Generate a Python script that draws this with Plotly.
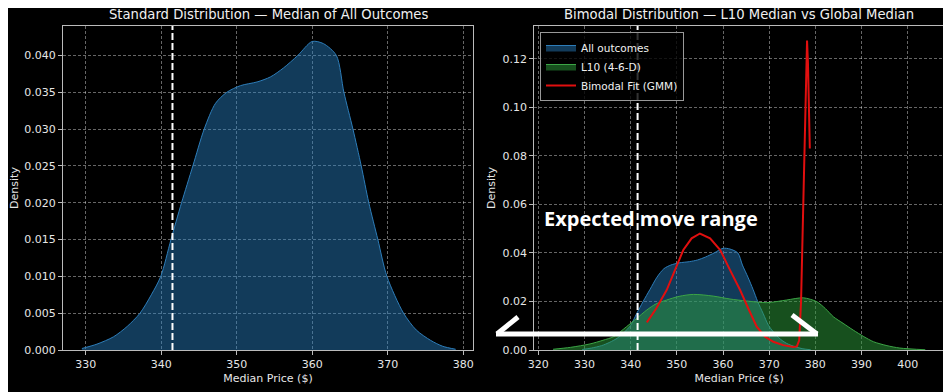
import plotly.graph_objects as go
from plotly.subplots import make_subplots

# ---- data ----
all_x = [329.5, 331.5, 333.7, 335.5, 337.2, 338.7, 339.95, 341.3, 342.7, 344.2, 345.7, 347.2,
         348.7, 350.5, 352.7, 354.5, 356.2, 358.1, 360.0, 361.5, 363.2, 364.2, 365.4, 366.5,
         367.5, 368.7, 369.9, 372.1, 373.8, 375.7, 377.3, 379.0]
all_y = [0.0002, 0.0008, 0.0018, 0.0032, 0.005, 0.0075, 0.010, 0.015, 0.020, 0.025, 0.030, 0.0335,
         0.035, 0.0359, 0.0364, 0.0371, 0.0383, 0.040, 0.0419, 0.0416, 0.040, 0.035, 0.030, 0.025,
         0.020, 0.015, 0.010, 0.005, 0.0027, 0.0013, 0.0005, 0.0001]

l10_x = [323.2, 327.0, 331.2, 334.0, 336.3, 339.1, 341.3, 343.5, 345.5, 347.8, 350.5, 353.6,
         357.9, 361.5, 365.1, 369.5, 373.8, 377.4, 380.3, 382.2, 383.9, 386.0, 388.2, 390.5,
         392.6, 395.5, 398.3, 403.8]
l10_y = [0.0003, 0.0011, 0.0025, 0.004, 0.0055, 0.0096, 0.013, 0.0165, 0.019, 0.0206, 0.0221, 0.0229,
         0.0222, 0.021, 0.0202, 0.0195, 0.0206, 0.0215, 0.0199, 0.017, 0.0137, 0.011, 0.0082, 0.0055,
         0.0034, 0.0018, 0.0008, 0.0001]

gmm_x = [343.5, 345.5, 347.8, 349.7, 351.4, 353.2, 355.0, 357.2, 359.4, 361.5, 363.7, 365.5,
         367.3, 369.1, 370.9, 373.0, 375.2, 376.0, 376.5, 376.9, 377.2, 377.6, 377.9, 378.2,
         378.4, 378.6, 378.8]
gmm_y = [0.0114, 0.017, 0.0247, 0.033, 0.0412, 0.046, 0.048, 0.046, 0.0412, 0.033, 0.0247, 0.017,
         0.0096, 0.0055, 0.0034, 0.0020, 0.0012, 0.0015, 0.004, 0.02, 0.045, 0.074, 0.105, 0.1275,
         0.118, 0.100, 0.083]

global_median = 341.5

left_xticks = [330, 340, 350, 360, 370, 380]
left_yticks = [0.000, 0.005, 0.010, 0.015, 0.020, 0.025, 0.030, 0.035, 0.040]
right_xticks = [320, 330, 340, 350, 360, 370, 380, 390, 400]
right_yticks = [0.00, 0.02, 0.04, 0.06, 0.08, 0.10, 0.12]

titles = ["Standard Distribution — Median of All Outcomes",
          "Bimodal Distribution — L10 Median vs Global Median"]

FONT = "DejaVu Sans"
OFF = 8                      # page body margin in the browser
W, H = 951 - OFF, 392 - OFF  # figure size
ML, MT = 63 - OFF, 26 - OFF
MR = W - (944 - OFF)
MB = H - (350 - OFF)
PW, PH = W - ML - MR, H - MT - MB


def px(x):
    """screen x (reference pixels) -> paper coordinate"""
    return (x - OFF - ML) / PW


def py(y):
    """screen y (reference pixels) -> paper coordinate"""
    return (H - MB - (y - OFF)) / PH


fig = make_subplots(rows=1, cols=2)

blue_fill = "rgba(40,130,200,0.45)"
blue_line = "rgb(45,125,185)"
green_fill = "rgba(45,160,60,0.5)"
green_line = "rgb(60,165,70)"

fig.add_trace(go.Scatter(x=all_x, y=all_y, mode="lines", fill="tozeroy", fillcolor=blue_fill,
                         line=dict(color=blue_line, width=1, shape="spline", smoothing=0.8),
                         showlegend=False), row=1, col=1)

fig.add_trace(go.Scatter(x=all_x, y=all_y, mode="lines", fill="tozeroy", fillcolor=blue_fill,
                         line=dict(color=blue_line, width=1, shape="spline", smoothing=0.8),
                         name="All outcomes"), row=1, col=2)
fig.add_trace(go.Scatter(x=l10_x, y=l10_y, mode="lines", fill="tozeroy", fillcolor=green_fill,
                         line=dict(color=green_line, width=1, shape="spline", smoothing=0.8),
                         name="L10 (4-6-D)"), row=1, col=2)
fig.add_trace(go.Scatter(x=gmm_x, y=gmm_y, mode="lines",
                         line=dict(color="rgb(225,15,15)", width=2),
                         name="Bimodal Fit (GMM)"), row=1, col=2)

for c in (1, 2):
    fig.add_vline(x=global_median, line=dict(color="white", width=2, dash="7px,3px"), row=1, col=c)

TXT = "#e6e6e6"
axis_common = dict(showgrid=True, gridcolor="rgba(255,255,255,0.4)", griddash="3px,2px", gridwidth=1,
                   zeroline=False, showline=True, mirror=True, linecolor="#bbbbbb", linewidth=1.2,
                   ticks="outside", ticklen=4, tickcolor="#bbbbbb", automargin=False,
                   tickfont=dict(family=FONT, size=11, color=TXT))

fig.update_xaxes(**axis_common)
fig.update_yaxes(**axis_common)

tfont = dict(family=FONT, size=11, color=TXT)
fig.update_layout(
    xaxis=dict(domain=[0, px(473)], range=[327, 381.3], tickvals=left_xticks,
               title=dict(text="Median Price ($)", font=tfont, standoff=4)),
    yaxis=dict(range=[0, 0.044], tickvals=left_yticks, tickformat=".3f",
               title=dict(text="Density", font=tfont, standoff=4)),
    xaxis2=dict(domain=[px(534.3), 1], range=[319.13, 407.86], tickvals=right_xticks,
                title=dict(text="Median Price ($)", font=tfont, standoff=4)),
    yaxis2=dict(range=[0, 0.1335], tickvals=right_yticks, tickformat=".2f",
                title=dict(text="Density", font=tfont, standoff=4)),
)

annotations = [
    dict(text=titles[0], x=px(268), y=py(14), xref="paper", yref="paper", showarrow=False,
         font=dict(family=FONT, size=13.2, color="#f0f0f0"), xanchor="center", yanchor="middle"),
    dict(text=titles[1], x=px(739), y=py(14), xref="paper", yref="paper", showarrow=False,
         font=dict(family=FONT, size=13.2, color="#f0f0f0"), xanchor="center", yanchor="middle"),
    dict(text="<b>Expected move range</b>", x=px(651), y=py(218), xref="paper", yref="paper",
         showarrow=False, font=dict(family="Open Sans", size=20, color="white"),
         xanchor="center", yanchor="middle"),
]
fig.update_layout(annotations=annotations)

arrow = dict(type="line", xref="paper", yref="paper", line=dict(color="white", width=5))
shapes = list(fig.layout.shapes) + [
    dict(arrow, x0=px(496), y0=py(334), x1=px(818), y1=py(334)),
    dict(arrow, x0=px(497), y0=py(334), x1=px(518), y1=py(317)),
    dict(arrow, x0=px(817), y0=py(334), x1=px(792), y1=py(315)),
]
fig.update_layout(shapes=shapes)

fig.update_layout(
    width=W, height=H, margin=dict(l=ML, r=MR, t=MT, b=MB),
    paper_bgcolor="black", plot_bgcolor="black",
    font=dict(family=FONT, color=TXT),
    legend=dict(x=px(540), y=py(32), xanchor="left", yanchor="top",
                bgcolor="rgba(0,0,0,0.8)", bordercolor="#999999", borderwidth=1,
                font=dict(family=FONT, size=10.5, color="#f0f0f0"), tracegroupgap=0,
                itemwidth=30),
)

fig.write_html("out.html")
